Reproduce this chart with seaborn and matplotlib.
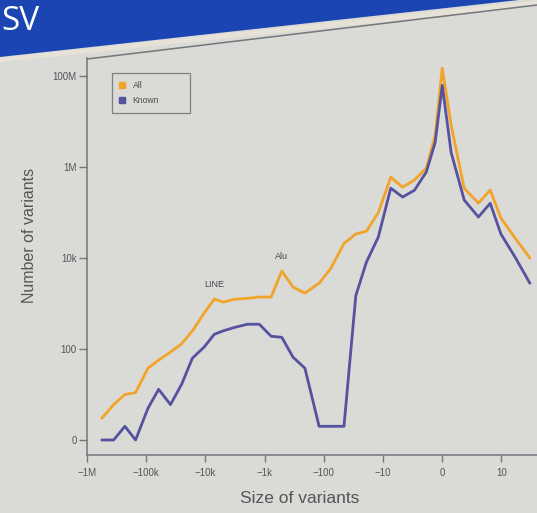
import numpy as np
import pandas as pd
import matplotlib
matplotlib.use("Agg")
import matplotlib.pyplot as plt
from matplotlib.lines import Line2D
from matplotlib.patches import Polygon
import seaborn as sns

# Signed log10 of variant size (negative = deletions, positive = insertions)
log_size = [-5.75, -5.55, -5.36, -5.18, -4.97, -4.79, -4.59, -4.40, -4.22, -4.02,
            -3.85, -3.70, -3.50, -3.29, -3.09, -2.89, -2.71, -2.52, -2.32, -2.08,
            -1.88, -1.66, -1.46, -1.28, -1.08, -0.87, -0.67, -0.47, -0.27, -0.12,
            0.00, 0.15, 0.37, 0.61, 0.81, 0.99, 1.23, 1.48]

# Number of variants per size bin
all_counts = [2, 5, 9, 10, 37, 56, 85, 130, 250, 620,
              1250, 1080, 1250, 1300, 1390, 1390, 5180, 2300, 1700, 2800,
              6000, 21000, 34000, 39000, 100000, 600000, 363000, 520000, 950000, 5000000,
              150000000, 8400000, 345000, 162000, 312000, 76000, 27500, 10000]
known_counts = [0, 0, 1, 0, 4, 12, 5, 16, 62, 110,
                210, 250, 300, 350, 350, 190, 180, 65, 37, 1,
                1, 1, 1500, 8200, 29000, 345000, 220000, 310000, 780000, 3500000,
                63000000, 2100000, 190000, 80000, 160000, 34000, 10500, 2800]

series_names = ["All", "Known"]
series_colors = {"All": "#f2a42a", "Known": "#55529f"}

x_ticks = [-6, -5, -4, -3, -2, -1, 0, 1]
x_tick_labels = ["\u22121M", "\u2212100k", "\u221210k", "\u22121k", "\u2212100", "\u221210", "0", "10"]
y_ticks = [0, 100, 1e4, 1e6, 1e8]
y_tick_labels = ["0", "100", "10k", "1M", "100M"]

peak_labels = {"LINE": 10, "Alu": 16}

BG = "#dadad6"
AXIS = "#75757c"
TEXT = "#55555a"
W, H = 537, 513

sns.set_style("white")
plt.rcParams["font.family"] = ["Liberation Sans", "DejaVu Sans"]

df = pd.DataFrame({
    "log_size": log_size * 2,
    "count": all_counts + known_counts,
    "set": [series_names[0]] * len(log_size) + [series_names[1]] * len(log_size),
})

fig = plt.figure(figsize=(W / 100, H / 100), dpi=100, facecolor=BG)

# Title banner
banner = Polygon([(0, 1), (1, 1), (1, 1 + 2 / H), (0, 1 - 57 / H)],
                 closed=True, transform=fig.transFigure, facecolor="#1b45b2",
                 edgecolor="none", zorder=0)
fig.patches.append(banner)
fig.add_artist(Line2D([0, 1], [1 - 60 / H, 1 - 3 / H], transform=fig.transFigure,
                      color="#e6e2d8", lw=3.5, zorder=0))
fig.text(1 / W, 1 - 30 / H, "SV", color="white", fontsize=24,
         family=["Open Sans", "DejaVu Sans"], va="baseline", ha="left")

ax = fig.add_axes([87 / W, 1 - 455 / H, 450 / W, 397 / H])
ax.set_facecolor(BG)

sns.lineplot(data=df, x="log_size", y="count", hue="set", palette=series_colors,
             hue_order=series_names, linewidth=2.0, estimator=None, sort=False,
             legend=False, ax=ax)

# log10(1 + n) keeps empty bins on the axis
def fwd(y):
    return np.log10(1 + np.maximum(np.asarray(y, dtype=float), -0.99))

def inv(v):
    return 10 ** np.asarray(v, dtype=float) - 1

ax.set_yscale("function", functions=(fwd, inv))
ax.set_xlim(-5.97, 1.60)
ax.set_ylim(inv(-0.33), inv(8.40))

ax.set_xticks(x_ticks)
ax.set_xticklabels(x_tick_labels)
ax.set_yticks(y_ticks)
ax.set_yticklabels(y_tick_labels)
ax.minorticks_off()
ax.tick_params(axis="both", direction="out", color=AXIS, labelcolor=TEXT,
               labelsize=7, width=1, bottom=True, left=True)
ax.tick_params(axis="x", length=5, pad=4)
ax.tick_params(axis="y", length=6, pad=1.5)

for side in ("top", "right"):
    ax.spines[side].set_visible(False)
for side in ("left", "bottom"):
    ax.spines[side].set_color(AXIS)
    ax.spines[side].set_linewidth(1.1)

# Top edge of the plot frame
fig.add_artist(Line2D([87 / W, 1], [1 - 59 / H, 1 - 5 / H], transform=fig.transFigure,
                      color=AXIS, lw=1.1, zorder=1))

ax.set_xlabel("Size of variants", fontsize=12.5, color=TEXT)
ax.set_ylabel("Number of variants", fontsize=11.5, color=TEXT)
ax.xaxis.set_label_coords(0.473, -0.09)
ax.yaxis.set_label_coords(-0.112, 0.554)

for name, idx in peak_labels.items():
    ax.annotate(name, (log_size[idx], all_counts[idx]), xytext=(0, 7),
                textcoords="offset points", ha="center", va="bottom",
                fontsize=6.5, color="#4a4a4e")

handles = [Line2D([], [], marker="s", linestyle="none", markersize=4.5,
                  markerfacecolor=series_colors[n], markeredgecolor=series_colors[n])
           for n in series_names]
leg = ax.legend(handles, series_names, loc="upper left",
                bbox_to_anchor=(25 / 450, 1 - 19 / 397, 78 / 450, 0.01),
                mode="expand", borderaxespad=0, fontsize=6.2, frameon=True,
                fancybox=False, edgecolor="#6a6a70", facecolor=BG,
                handlelength=0.6, handletextpad=0.9, labelspacing=0.75,
                borderpad=0.9)
leg.get_frame().set_linewidth(0.9)
for t in leg.get_texts():
    t.set_color("#4a4a4e")

fig.savefig("out.png", dpi=100, facecolor=BG)
